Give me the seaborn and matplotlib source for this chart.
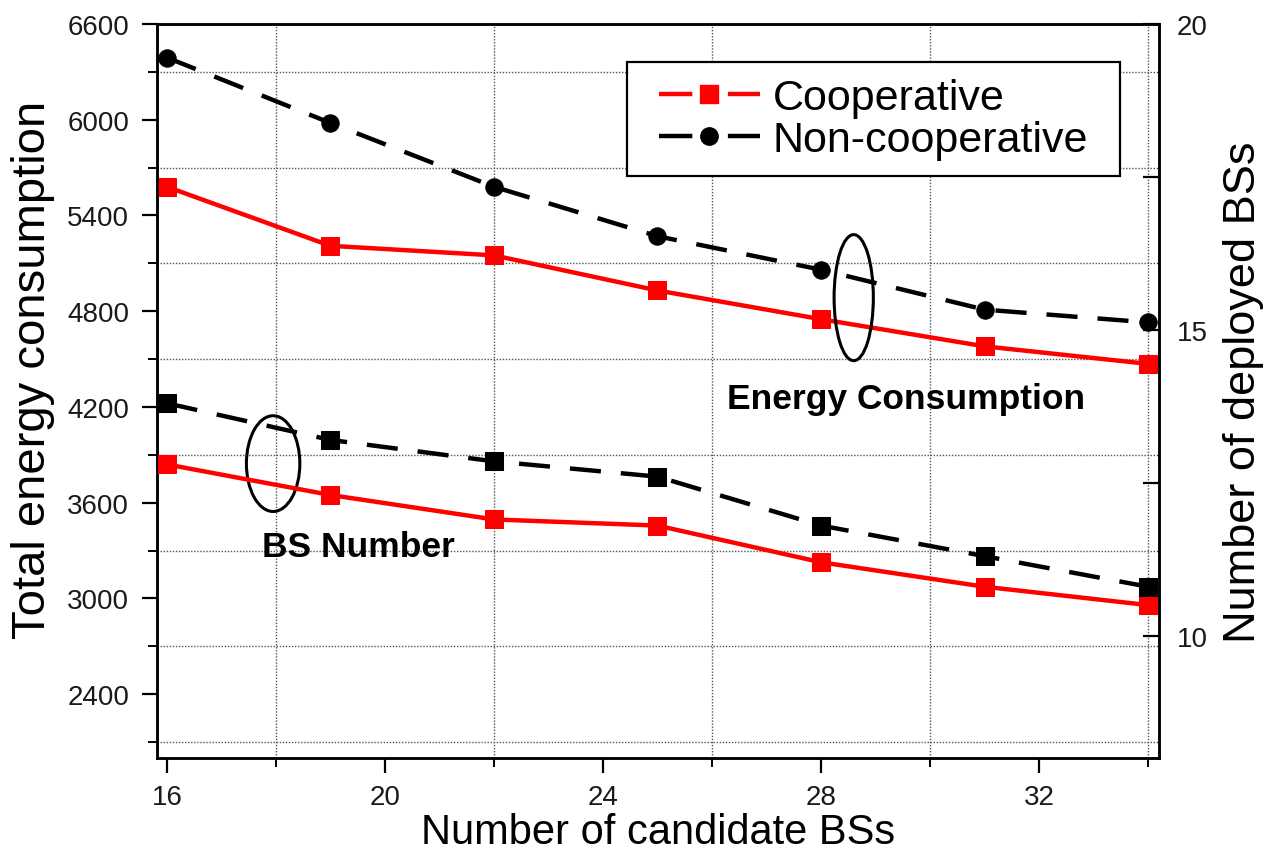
import matplotlib
matplotlib.use("Agg")
import matplotlib.pyplot as plt
from matplotlib.lines import Line2D
from matplotlib.patches import Ellipse, Rectangle
from matplotlib.ticker import MultipleLocator, FixedLocator
import seaborn as sns

# Number of candidate BSs
candidates = [16, 19, 22, 25, 28, 31, 34]

# Total energy consumption (left axis)
energy_coop = [5580, 5210, 5150, 4930, 4750, 4580, 4470]
energy_noncoop = [6390, 5980, 5580, 5270, 5060, 4810, 4730]

# Number of deployed BSs (right axis)
bs_coop = [12.8, 12.3, 11.9, 11.8, 11.2, 10.8, 10.5]
bs_noncoop = [13.8, 13.2, 12.85, 12.6, 11.8, 11.3, 10.8]

series_labels = ["Cooperative", "Non-cooperative"]

sns.set_theme(style="ticks")
plt.rcParams["font.family"] = ["Liberation Sans", "DejaVu Sans"]
plt.rcParams["text.color"] = "black"
plt.rcParams["axes.labelcolor"] = "black"

RED = "#ff0000"
BLACK = "#000000"
DASH = (0, (7, 4.5))
LW = 3.2
MS = 12.5

fig = plt.figure(figsize=(12.67, 8.54), dpi=100)
ax = fig.add_axes([157 / 1267, 1 - 759 / 854, (1159 - 157) / 1267, (759 - 25) / 854])
ax2 = ax.twinx()

# energy curves
sns.lineplot(x=candidates, y=energy_coop, ax=ax, color=RED, lw=LW, marker="s",
             markersize=MS, markeredgecolor=RED, zorder=3)
sns.lineplot(x=candidates, y=energy_noncoop, ax=ax, color=BLACK, lw=LW, marker="o",
             markersize=MS, markeredgecolor=BLACK, linestyle=DASH, zorder=3)

# BS number curves
sns.lineplot(x=candidates, y=bs_coop, ax=ax2, color=RED, lw=LW, marker="s",
             markersize=MS, markeredgecolor=RED, zorder=3)
sns.lineplot(x=candidates, y=bs_noncoop, ax=ax2, color=BLACK, lw=LW, marker="s",
             markersize=MS, markeredgecolor=BLACK, linestyle=DASH, zorder=3)

ax.set_xlim(15.82, 34.2)
ax.set_ylim(2000, 6600)
ax2.set_ylim(8, 20)

ax.xaxis.set_major_locator(FixedLocator([16, 20, 24, 28, 32]))
ax.xaxis.set_minor_locator(FixedLocator([18, 22, 26, 30, 34]))
ax.yaxis.set_major_locator(MultipleLocator(600))
ax.yaxis.set_minor_locator(FixedLocator([2100, 2700, 3300, 3900, 4500, 5100, 5700, 6300]))
ax2.yaxis.set_major_locator(FixedLocator([10, 15, 20]))
ax2.yaxis.set_minor_locator(FixedLocator([12.5, 17.5]))

ax.grid(which="minor", axis="both", color="#555555", linestyle=(0, (1, 1.2)), lw=1.0)
ax.grid(which="major", visible=False)
ax2.grid(False)

for a in (ax, ax2):
    for s in a.spines.values():
        s.set_visible(True)
        s.set_color("black")
        s.set_linewidth(1.8)

ax.tick_params(axis="both", which="major", direction="out", length=11, width=1.6,
               labelsize=20, color="black", labelcolor="#1a1a1a",
               bottom=True, left=True, top=False, right=False)
ax.tick_params(axis="both", which="minor", direction="out", length=6.5, width=1.4,
               color="black", bottom=True, left=True, top=False, right=False)
ax.tick_params(axis="x", which="major", pad=8)
ax.tick_params(axis="y", which="major", pad=9)
ax2.tick_params(axis="y", which="both", direction="in", length=11.5, width=1.6,
                labelsize=20, pad=13, color="black", labelcolor="#1a1a1a")

ax.set_xlabel("Number of candidate BSs", fontsize=30)
ax.xaxis.set_label_coords(0.5, -(853 - 759) / (759 - 25))
ax.xaxis.label.set_va("bottom")
ax.set_ylabel("Total energy consumption", fontsize=34, labelpad=9)
ax.yaxis.label.set_y(0.53)
ax2.set_ylabel("Number of deployed BSs", fontsize=32.5, labelpad=11)

# group markers
ax.add_patch(Ellipse((28.6, 4885), width=0.72, height=790, fill=False,
                     edgecolor="black", lw=2.2, zorder=4))
ax.add_patch(Ellipse((17.95, 3845), width=0.98, height=600, fill=False,
                     edgecolor="black", lw=2.2, zorder=4))
ax.text(29.56, 4254, "Energy Consumption", fontsize=25.5, fontweight="bold",
        ha="center", va="center", zorder=5)
ax.text(19.52, 3323, "BS Number", fontsize=25.5, fontweight="bold",
        ha="center", va="center", zorder=5)

# legend: entries centred inside a plain black box
handles = [
    Line2D([], [], color=RED, lw=LW, marker="s", markersize=MS, dashes=(7.5, 8.0)),
    Line2D([], [], color=BLACK, lw=LW, marker="o", markersize=MS, dashes=(7.5, 8.0)),
]
box_x0, box_x1, box_y0, box_y1 = 0.469, 0.961, 0.793, 0.948
ax2.add_patch(Rectangle((box_x0, box_y0), box_x1 - box_x0, box_y1 - box_y0,
                        transform=ax2.transAxes, facecolor="white", edgecolor="black",
                        lw=1.6, zorder=5))
leg = ax2.legend(handles, series_labels, loc="center",
                 bbox_to_anchor=((box_x0 + box_x1) / 2, (box_y0 + box_y1) / 2),
                 borderaxespad=0, fontsize=31, frameon=False,
                 handlelength=2.35, handletextpad=0.3, labelspacing=0.05, borderpad=0)
leg.set_zorder(6)

fig.savefig("out.png", dpi=100)
